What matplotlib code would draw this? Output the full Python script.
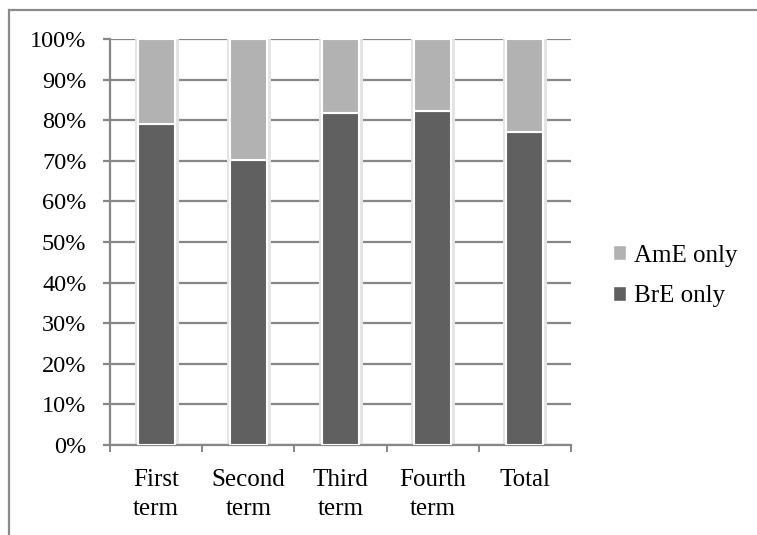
import matplotlib
matplotlib.use("Agg")
import matplotlib.pyplot as plt
from matplotlib.patches import Patch
from matplotlib.lines import Line2D
import numpy as np

categories = ["First\nterm", "Second\nterm", "Third\nterm", "Fourth\nterm", "Total"]
bre_only = [0.790, 0.702, 0.817, 0.822, 0.772]
ame_only = [1 - v for v in bre_only]
y_ticks = [0, 10, 20, 30, 40, 50, 60, 70, 80, 90, 100]

plt.rcParams["font.family"] = ["Liberation Serif", "DejaVu Serif"]

W, H = 757, 535
fig = plt.figure(figsize=(W / 100, H / 100), dpi=100)
fig.patch.set_facecolor("white")

# outer chart frame (top and left edges visible)
frame_col = "#8a8a8a"
fig.add_artist(Line2D([9 / W, 1.0], [1 - 10 / H, 1 - 10 / H],
                      transform=fig.transFigure, color=frame_col,
                      linewidth=1.6, solid_capstyle="butt"))
fig.add_artist(Line2D([9 / W, 9 / W], [0.0, 1 - 10 / H],
                      transform=fig.transFigure, color=frame_col,
                      linewidth=1.6, solid_capstyle="projecting"))

ax = fig.add_axes([110 / W, 1 - 445 / H, (571 - 110) / W, (445 - 39) / H])
grid_col = "#878787"
x = np.arange(len(categories))
width = 0.4

# soft halo around each bar
ax.bar(x, [1] * len(x), width, color="none", edgecolor="#e4e4e4",
       linewidth=5, zorder=2)
ax.bar(x, bre_only, width, color="#606060", edgecolor="white",
       linewidth=1.5, zorder=3)
ax.bar(x, ame_only, width, bottom=bre_only, color="#b2b2b2",
       edgecolor="white", linewidth=1.5, zorder=3)

ax.set_xlim(-0.5, len(x) - 0.5)
ax.set_ylim(0, 1.0)
ax.set_yticks([v / 100 for v in y_ticks])
ax.set_yticklabels([f"{v}%" for v in y_ticks])
ax.yaxis.grid(True, color=grid_col, linewidth=1.6, zorder=1)
ax.set_axisbelow(True)

ax.set_xticks(x)
ax.set_xticklabels(categories, linespacing=1.42)
ax.set_xticks(np.arange(-0.5, len(x)), minor=True)
ax.tick_params(axis="x", which="major", length=0, pad=17, labelsize=18)
ax.tick_params(axis="x", which="minor", length=5, width=1.4, color=grid_col,
               direction="out")
ax.tick_params(axis="y", length=5, width=1.6, color=grid_col, pad=12,
               labelsize=17.5)

for side in ("top", "right"):
    ax.spines[side].set_visible(False)
for side in ("left", "bottom"):
    ax.spines[side].set_color(grid_col)
    ax.spines[side].set_linewidth(1.6)

handles = [Patch(facecolor="#b2b2b2", edgecolor="white", label="AmE only"),
           Patch(facecolor="#606060", edgecolor="white", label="BrE only")]
fig.legend(handles=handles, loc="center left",
           bbox_to_anchor=(590 / W, 1 - 276 / H), frameon=False,
           fontsize=18, handlelength=0.55, handleheight=0.55,
           handletextpad=0.3, labelspacing=0.75)

fig.savefig("out.png", dpi=100, facecolor="white")
